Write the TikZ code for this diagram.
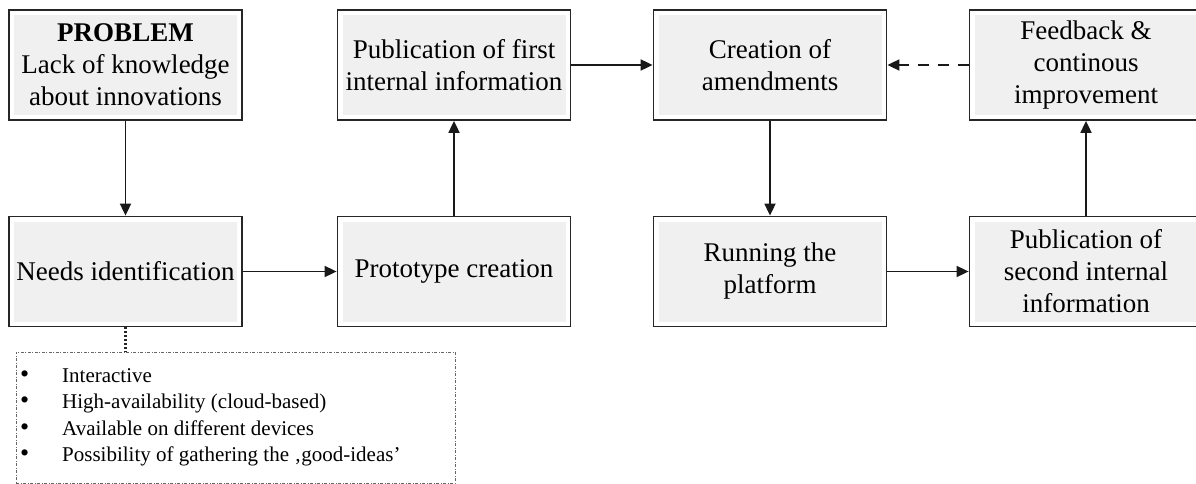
\documentclass[tikz,border=0pt]{standalone}
\usepackage{fontspec}
\setmainfont{Liberation Serif}
\usetikzlibrary{arrows.meta}
\begin{document}
\begin{tikzpicture}[x=1pt,y=-1pt,
  box/.style={draw=black!85, line width=1.8pt, fill=white,
    minimum width=233pt, minimum height=110pt, inner sep=0pt,
    align=center, font=\fontsize{27}{32}\selectfont,
    path picture={\fill[black!6] ([xshift=5pt,yshift=5pt]path picture bounding box.south west) rectangle ([xshift=-5pt,yshift=-5pt]path picture bounding box.north east);}},
  arr/.style={draw=black!90, line width=1.8pt, -{Triangle[length=12pt,width=11pt]}},
  dasharr/.style={arr, dash pattern=on 11pt off 9pt},
  dotline/.style={draw=black!85, line width=2.2pt, dash pattern=on 2pt off 2pt},
  listbox/.style={draw=black!60, line width=0.8pt, dash pattern=on 3pt off 1.5pt on 1pt off 1.5pt,
    minimum width=439pt, minimum height=131pt, inner sep=0pt},
  items/.style={anchor=west, inner sep=0pt, font=\fontsize{21}{26.5}\selectfont}
]
\useasboundingbox (0,0) rectangle (1196,484);
\clip (0,0) rectangle (1196,484);

\node[box] (p) at (125.5,65) {\textbf{PROBLEM}\\Lack of knowledge\\about innovations};
\node[box] (needs) at (125.5,271.5) {Needs identification};
\node[box] (proto) at (454,271.5) {Prototype creation};
\node[box] (pub1) at (454,65) {Publication of first\\internal information};
\node[box] (creat) at (770,65) {Creation of\\amendments};
\node[box] (run) at (770,271.5) {Running the\\platform};
\node[box] (feed) at (1086,65) {Feedback \&\\continous\\improvement};
\node[box] (pub2) at (1086,271.5) {Publication of\\second internal\\information};

\node[listbox] (list) at (235.5,417.5) {};
\node[items] (itemtext) at (20,416.5) {%
  \begin{tabular}{@{}p{42pt}@{}l@{}}
  {\fontsize{26}{26}\selectfont •} & Interactive\\
  {\fontsize{26}{26}\selectfont •} & High-availability (cloud-based)\\
  {\fontsize{26}{26}\selectfont •} & Available on different devices\\
  {\fontsize{26}{26}\selectfont •} & Possibility of gathering the ‚good-ideas’
  \end{tabular}};

\draw[arr] (p) -- (needs);
\draw[arr] (needs) -- (proto);
\draw[arr] (proto) -- (pub1);
\draw[arr] (pub1) -- (creat);
\draw[arr] (creat) -- (run);
\draw[arr] (run) -- (pub2);
\draw[arr] (pub2) -- (feed);
\draw[dasharr] (feed) -- (creat);
\draw[dotline] (needs.south) -- (needs.south |- list.north);
\end{tikzpicture}
\end{document}
